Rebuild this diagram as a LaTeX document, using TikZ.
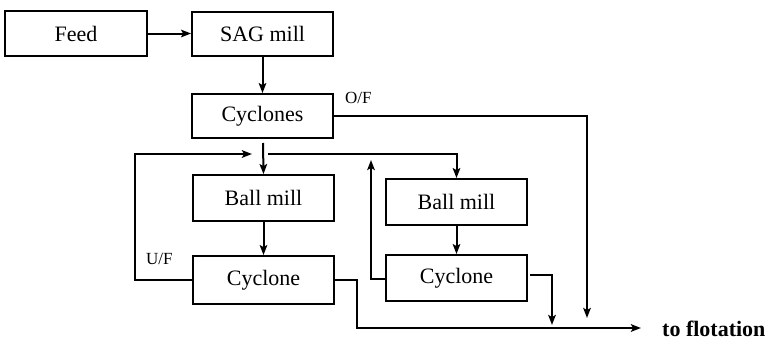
\documentclass[tikz,border=0pt]{standalone}
\usepackage{fontspec}
\setmainfont{Liberation Serif}
\usetikzlibrary{arrows.meta}
\begin{document}
\begin{tikzpicture}[x=1pt,y=-1pt,
  box/.style={draw, line width=1.8pt, minimum width=141pt, minimum height=44pt, inner sep=0pt, font=\fontsize{22}{26}\selectfont},
  lbl/.style={inner sep=0pt, font=\fontsize{17}{20}\selectfont},
  flow/.style={line width=2pt, -{Stealth[length=10pt,width=7.5pt,inset=2pt]}}]
\useasboundingbox (0,0) rectangle (769,340);
\node[box, minimum width=142pt, minimum height=45pt] (feed) at (76,33.5) {Feed};
\node[box] (sag) at (262.5,34) {SAG mill};
\node[box] (cyc) at (262.5,116) {Cyclones};
\node[box, minimum height=46pt] (bm1) at (263.5,198) {Ball mill};
\node[box, minimum height=48pt] (cy1) at (263.5,280) {Cyclone};
\node[box, minimum height=46pt] (bm2) at (456.5,202) {Ball mill};
\node[box, minimum height=46pt] (cy2) at (456.5,278) {Cyclone};
\node[lbl, anchor=west] (of) at (345,98) {O/F};
\node[lbl, anchor=west] (uf) at (146,259) {U/F};
\node[inner sep=0pt, anchor=west, font=\fontsize{22}{26}\selectfont\bfseries] (flot) at (662,329) {to flotation};
% coordinates
\coordinate (ofc) at (587,116);
\coordinate (ofe) at (587,318);
\coordinate (split) at (263,143);
\coordinate (hl) at (268,154);
\coordinate (hr) at (456.5,154);
\coordinate (ufl) at (135,280);
\coordinate (uft) at (135,154);
\coordinate (ufe) at (252,154);
\coordinate (c1r) at (357,280);
\coordinate (c1b) at (357,328);
\coordinate (flend) at (641,328);
\coordinate (c2l) at (371,279);
\coordinate (c2t) at (371,160);
\coordinate (c2rs) at (530,275);
\coordinate (c2rc) at (552,275);
\coordinate (c2re) at (552,325);
% connectors
\draw[flow] (feed.east) -- (sag.west |- feed.east);
\draw[flow] (sag.south) -- (cyc.north);
\draw[flow] (cyc.east) -- (ofc) -- (ofe);
\draw[flow] (split) -- (bm1.north);
\draw[flow] (hl) -- (hr) -- (bm2.north);
\draw[flow] (cy1.west) -- (ufl) -- (uft) -- (ufe);
\draw[flow] (bm1.south) -- (cy1.north);
\draw[flow] (cy1.east) -- (c1r) -- (c1b) -- (flend);
\draw[flow] (bm2.south) -- (cy2.north);
\draw[flow] (cy2.west |- c2l) -- (c2l) -- (c2t);
\draw[flow] (c2rs) -- (c2rc) -- (c2re);
\end{tikzpicture}
\end{document}
